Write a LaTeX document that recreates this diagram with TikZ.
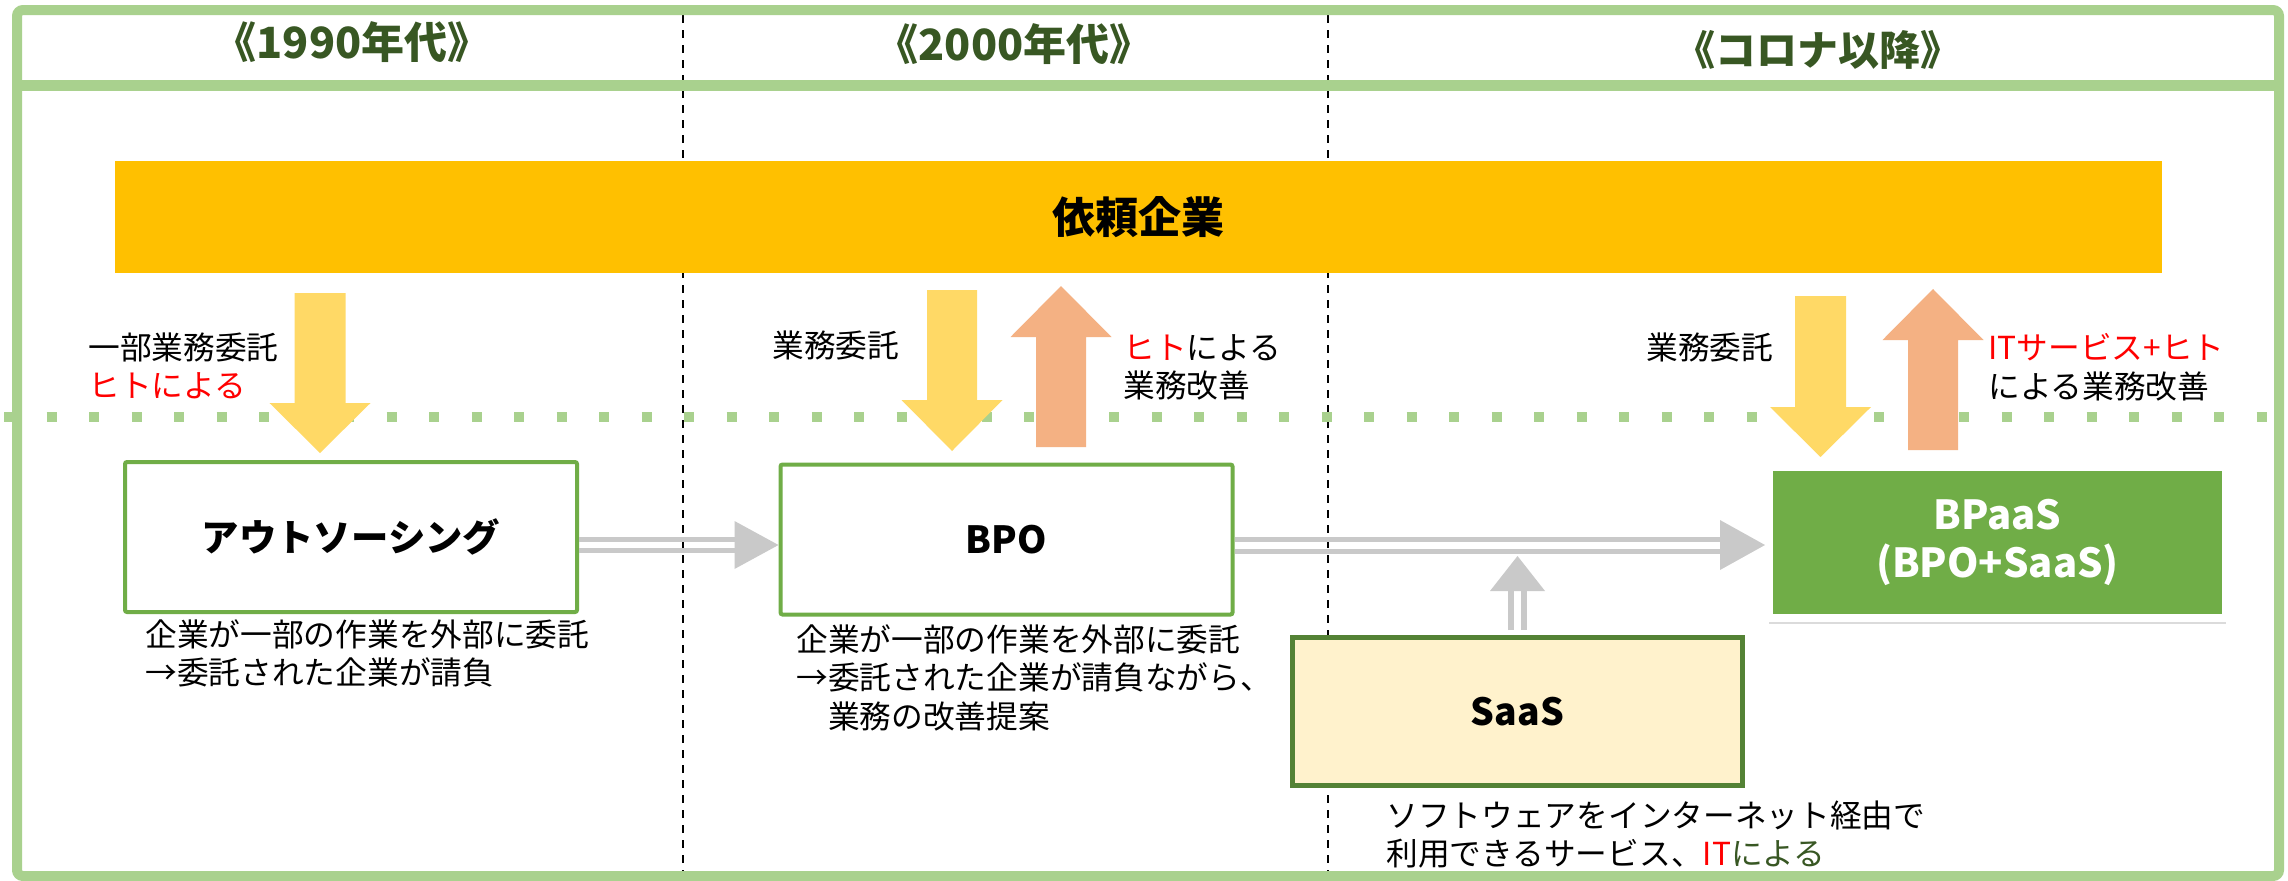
\documentclass[tikz,border=0pt]{standalone}
\usepackage{fontspec}
\setmainfont{Noto Sans CJK JP}
\usetikzlibrary{calc,shadows}
\definecolor{frameG}{HTML}{A9D18E}
\definecolor{headG}{HTML}{385723}
\definecolor{barO}{HTML}{FFC000}
\definecolor{arrY}{HTML}{FFD966}
\definecolor{arrS}{HTML}{F4B183}
\definecolor{boxG}{HTML}{70AD47}
\definecolor{saasB}{HTML}{548235}
\definecolor{saasF}{HTML}{FFF2CC}
\definecolor{arrG}{HTML}{C9C9C9}
\definecolor{txtR}{HTML}{FF0000}
\begin{document}
\begin{tikzpicture}[x=0.5pt,y=-0.5pt,
  vdash/.style={black, line width=0.75pt, dash pattern=on 4pt off 3.5pt},
  head/.style={font=\fontsize{21.5}{24}\selectfont\bfseries, text=headG, inner sep=0},
  bar/.style={fill=barO, minimum width=1023.5pt, minimum height=56pt, inner sep=0,
    font=\fontsize{21.5}{24}\selectfont\bfseries},
  gbox/.style={draw=boxG, line width=2pt, fill=white, minimum width=226pt,
    minimum height=75pt, inner sep=0, rounded corners=1pt,
    font=\fontsize{18.7}{22}\selectfont\bfseries},
  saasbox/.style={draw=saasB, line width=2.5pt, fill=saasF, minimum width=225pt,
    minimum height=74pt, inner sep=0, font=\fontsize{18.7}{22}\selectfont\bfseries},
  bpaasbox/.style={fill=boxG, draw=white, line width=4pt, minimum width=228.5pt,
    minimum height=75.5pt, inner sep=0, text=white, align=center,
    font=\fontsize{20}{24}\selectfont\bfseries,
    drop shadow={shadow xshift=0pt, shadow yshift=-3pt, opacity=0.2, fill=black!70}},
  txt/.style={font=\fontsize{15.85}{19.25}\selectfont, inner sep=0, anchor=north west, align=left},
  gline/.style={draw=arrG, line width=2.5pt},
  gvline/.style={draw=arrG, line width=3pt}
]
\useasboundingbox (0,0) rectangle (2288,880);
\fill[white] (0,0) rectangle (2288,880);

% period separators
\draw[vdash] (683,15) -- (683,876);
\draw[vdash] (1328,15) -- (1328,876);

% frame
\draw[frameG, line width=5pt, rounded corners=3pt] (17,10) rectangle (2279,876);
\draw[frameG, line width=5.5pt] (17,85) -- (2279,85);

% dotted boundary
\draw[frameG, line width=5pt, dash pattern=on 5pt off 16.25pt] (4,417) -- (2284,417);

% headers
\node[head] (h1) at (352,42) {《1990年代》};
\node[head] (h2) at (1014,44) {《2000年代》};
\node[head, font=\fontsize{20.5}{24}\selectfont\bfseries] (h3) at (1818,50) {《コロナ以降》};

% client bar
\node[bar] (client) at (1138.5,217) {依頼企業};

% block arrows
\fill[arrY, shift={(320,0)}] (-25.5,293) -- (25.5,293) -- (25.5,403) -- (50.5,403) -- (0,453) -- (-50.5,403) -- (-25.5,403) -- cycle;
\fill[arrY, shift={(952,0)}] (-25,290) -- (25,290) -- (25,400) -- (50.5,400) -- (0,451) -- (-50.5,400) -- (-25,400) -- cycle;
\fill[arrS, shift={(1061,0)}] (-25,447) -- (25,447) -- (25,337) -- (50.5,337) -- (0,286) -- (-50.5,337) -- (-25,337) -- cycle;
\fill[arrY, shift={(1820.5,0)}] (-25.5,296) -- (25.5,296) -- (25.5,407) -- (50.5,407) -- (0,457) -- (-50.5,407) -- (-25.5,407) -- cycle;
\fill[arrS, shift={(1933,0)}] (-25,450) -- (25,450) -- (25,340) -- (50.5,340) -- (0,289) -- (-50.5,340) -- (-25,340) -- cycle;

% arrow labels
\node[txt] (l1) at (88,332) {一部業務委託\\\textcolor{txtR}{ヒトによる}};
\node[txt] (l2) at (772,330) {業務委託};
\node[txt] (l3) at (1123,334) {\textcolor{txtR}{ヒト}による\\業務改善};
\node[txt] (l4) at (1646,332) {業務委託};
\node[txt] (l5) at (1988,333) {\textcolor{txtR}{ITサービス+ヒト}\\による業務改善};

% boxes
\node[gbox] (b1) at (351,537) {アウトソーシング};
\node[gbox] (b2) at (1006.5,539.5) {BPO};
\node[saasbox] (saas) at (1517.5,711.5) {SaaS};
\node[bpaasbox] (bpaas) at (1997.5,542.5) {BPaaS\\(BPO+SaaS)};

% captions
\node[txt] (c1) at (145,619) {企業が一部の作業を外部に委託\\→委託された企業が請負};
\node[txt] (c2) at (796,624) {企業が一部の作業を外部に委託\\→委託された企業が請負ながら、\\　業務の改善提案};
\node[txt] (c3) at (1386,800) {ソフトウェアをインターネット経由で\\利用できるサービス、\textcolor{txtR}{IT}\textcolor{headG}{による}};

% gray double arrows
\coordinate (s1) at (b1.east |- 0,545);
\coordinate (e1) at (b2.west |- 0,545);
\draw[gline] ($(s1)+(0,-5.5)$) -- ($(e1)+(-44,-5.5)$);
\draw[gline] ($(s1)+(0,5.5)$) -- ($(e1)+(-44,5.5)$);
\fill[arrG] (e1) -- ++(-44,-24) -- ++(0,48) -- cycle;

\coordinate (s2) at (b2.east |- 0,545);
\coordinate (e2) at (bpaas.west |- 0,545);
\draw[gline] ($(s2)+(0,-6)$) -- ($(e2)+(-45,-6)$);
\draw[gline] ($(s2)+(0,6)$) -- ($(e2)+(-45,6)$);
\fill[arrG] (e2) -- ++(-45,-25) -- ++(0,50) -- cycle;

\coordinate (s3) at ($(saas.north)+(0,-5)$);
\coordinate (e3) at (saas.north |- 0,556);
\draw[gvline] ($(s3)+(-6.5,0)$) -- ($(e3)+(-6.5,35)$);
\draw[gvline] ($(s3)+(6.5,0)$) -- ($(e3)+(6.5,35)$);
\fill[arrG] (e3) -- ++(-27.5,35) -- ++(55,0) -- cycle;
\end{tikzpicture}
\end{document}
